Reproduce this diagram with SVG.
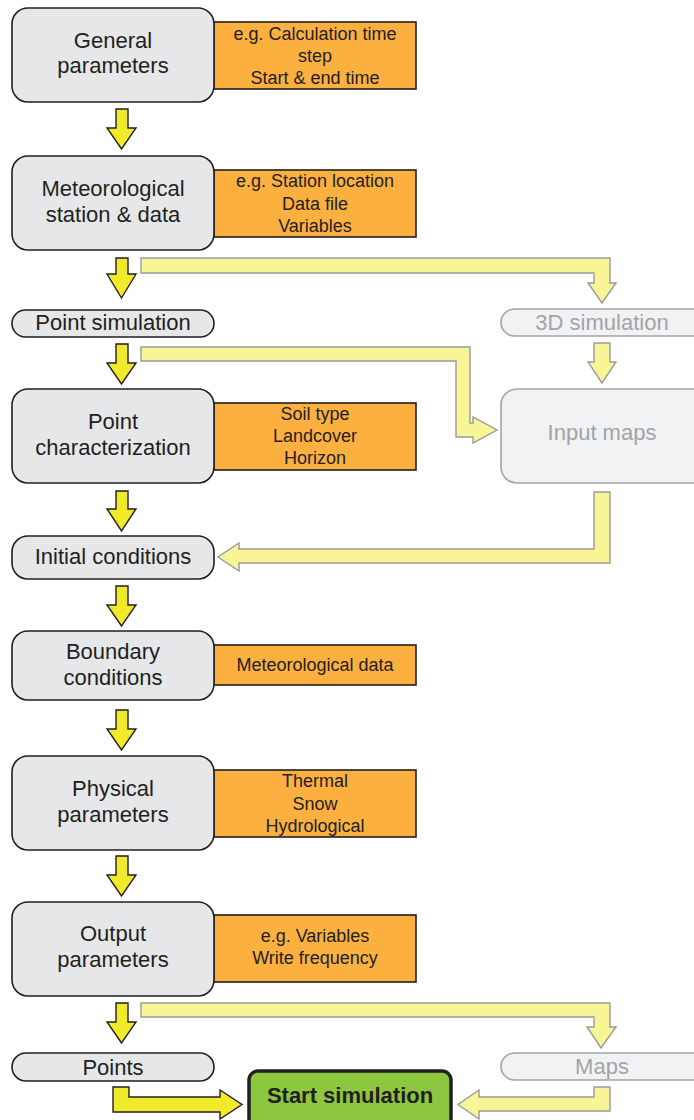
<svg xmlns="http://www.w3.org/2000/svg" width="694" height="1120" viewBox="0 0 694 1120">
<style>
text{font-family:"Liberation Sans",Arial,Helvetica,sans-serif;text-anchor:middle;fill:#231f20}
.n{fill:#e6e7e8;stroke:#231f20;stroke-width:1.6}
.o{fill:#fbb040;stroke:#231f20;stroke-width:1.6}
.g{fill:#f1f2f3;stroke:#a2a4a6;stroke-width:1.6}
.t{font-size:22px}
.s{font-size:18px}
.gt{font-size:22px;fill:#a2a4a6}
.da{fill:#f1ea2a;stroke:#231f20;stroke-width:1.4;stroke-linejoin:miter}
.la{fill:#f8f597;stroke:#9a9a9a;stroke-width:1.4;stroke-linejoin:miter}
</style>
<rect width="694" height="1120" fill="#ffffff"/>

<g id="general">
<rect class="o" x="214" y="22" width="202" height="67"/>
<rect class="n" x="12" y="8" width="202" height="94" rx="16"/>
<text class="t" x="113" y="48">General</text>
<text class="t" x="113" y="73">parameters</text>
<text class="s" x="315" y="39.5">e.g. Calculation time</text>
<text class="s" x="315" y="61.5">step</text>
<text class="s" x="315" y="83.5">Start &amp; end time</text>
</g>

<g id="meteo">
<rect class="o" x="214" y="170" width="202" height="67"/>
<rect class="n" x="12" y="156" width="202" height="94" rx="16"/>
<text class="t" x="113" y="196">Meteorological</text>
<text class="t" x="113" y="222">station &amp; data</text>
<text class="s" x="315" y="187">e.g. Station location</text>
<text class="s" x="315" y="209.5">Data file</text>
<text class="s" x="315" y="232">Variables</text>
</g>

<g id="pointsim">
<rect class="n" x="12" y="310" width="202" height="27" rx="13.5"/>
<text class="t" x="113" y="330">Point simulation</text>
</g>

<g id="sim3d">
<rect class="g" x="501" y="309" width="212" height="27" rx="13.5"/>
<text class="gt" x="602" y="330">3D simulation</text>
</g>

<g id="pointchar">
<rect class="o" x="214" y="403" width="202" height="67"/>
<rect class="n" x="12" y="389" width="202" height="94" rx="16"/>
<text class="t" x="113" y="429">Point</text>
<text class="t" x="113" y="455">characterization</text>
<text class="s" x="315" y="420">Soil type</text>
<text class="s" x="315" y="442">Landcover</text>
<text class="s" x="315" y="464">Horizon</text>
</g>

<g id="inputmaps">
<rect class="g" x="501" y="389" width="212" height="94" rx="16"/>
<text class="gt" x="602" y="440">Input maps</text>
</g>

<g id="initial">
<rect class="n" x="12" y="536" width="202" height="43" rx="16"/>
<text class="t" x="113" y="564">Initial conditions</text>
</g>

<g id="boundary">
<rect class="o" x="214" y="645" width="202" height="40"/>
<rect class="n" x="12" y="631" width="202" height="69" rx="16"/>
<text class="t" x="113" y="659">Boundary</text>
<text class="t" x="113" y="685">conditions</text>
<text class="s" x="315" y="671">Meteorological data</text>
</g>

<g id="physical">
<rect class="o" x="214" y="770" width="202" height="67"/>
<rect class="n" x="12" y="756" width="202" height="94" rx="16"/>
<text class="t" x="113" y="796">Physical</text>
<text class="t" x="113" y="822">parameters</text>
<text class="s" x="315" y="787">Thermal</text>
<text class="s" x="315" y="809.5">Snow</text>
<text class="s" x="315" y="832">Hydrological</text>
</g>

<g id="output">
<rect class="o" x="214" y="915" width="202" height="67"/>
<rect class="n" x="12" y="902" width="202" height="94" rx="16"/>
<text class="t" x="113" y="941">Output</text>
<text class="t" x="113" y="967">parameters</text>
<text class="s" x="315" y="942">e.g. Variables</text>
<text class="s" x="315" y="964">Write frequency</text>
</g>

<g id="points">
<rect class="n" x="12" y="1053" width="202" height="28" rx="14"/>
<text class="t" x="113" y="1075">Points</text>
</g>

<g id="maps">
<rect class="g" x="501" y="1053" width="212" height="27" rx="13.5"/>
<text class="gt" x="602" y="1074">Maps</text>
</g>

<g id="start">
<rect x="249" y="1071" width="202" height="60" rx="9" fill="#8dc63f" stroke="#231f20" stroke-width="3.5"/>
<text x="350" y="1103" style="font-size:22px;font-weight:bold">Start simulation</text>
</g>

<g id="connectors">
<path class="da" d="M116,109 H128 V128 H136 L121.5,149 L107,128 H116 Z"/>
<path class="da" d="M116,258 H128 V274 H136 L121.5,298 L107,274 H116 Z"/>
<path class="da" d="M116,344 H128 V363 H136 L121.5,384 L107,363 H116 Z"/>
<path class="da" d="M116,491 H128 V509 H136 L121.5,531 L107,509 H116 Z"/>
<path class="da" d="M116,586 H128 V605 H136 L121.5,626 L107,605 H116 Z"/>
<path class="da" d="M116,710 H128 V729 H136 L121.5,750 L107,729 H116 Z"/>
<path class="da" d="M116,856 H128 V875 H136 L121.5,896 L107,875 H116 Z"/>
<path class="da" d="M116,1003 H128 V1022 H136 L121.5,1043 L107,1022 H116 Z"/>
<path class="da" d="M113,1087 H129 V1097 H220 V1090 L242,1104.5 L220,1119 V1112 H113 Z"/>

<path class="la" d="M141,258 H610 V283 H616 L602,303 L588,283 H594 V273 H141 Z"/>
<path class="la" d="M141,347 H470 V423 H473 V417 L497,430 L473,443 V437 H456 V361 H141 Z"/>
<path class="la" d="M594,343 H610 V362 H616 L602,383 L588,362 H594 Z"/>
<path class="la" d="M594,492 H610 V563 H239 V571 L218,557 L239,543 V549 H594 Z"/>
<path class="la" d="M141,1003 H610 V1027 H616 L601,1048 L587,1027 H594 V1017 H141 Z"/>
<path class="la" d="M594,1087 H610 V1111 H479 V1119 L458,1104.5 L479,1090 V1097 H594 Z"/>
</g>
</svg>
